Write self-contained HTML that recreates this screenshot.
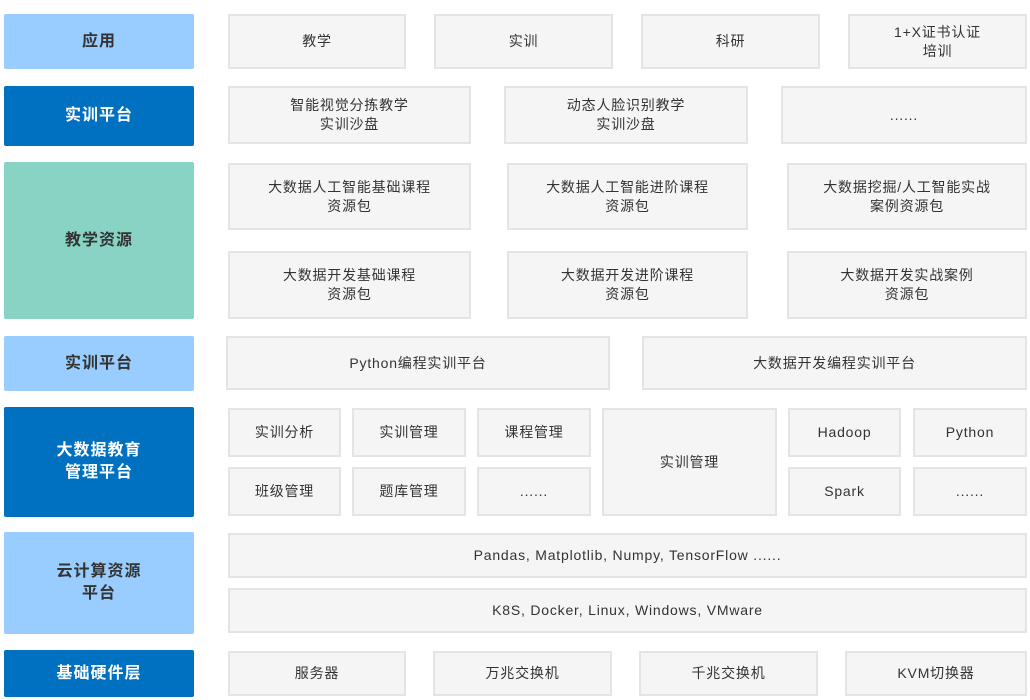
<!DOCTYPE html>
<html><head><meta charset="utf-8"><style>
body{margin:0;width:1030px;height:700px;background:#fff;position:relative;overflow:hidden;font-family:"Liberation Sans","Noto Sans CJK SC",sans-serif}
.b{position:absolute;box-sizing:border-box;background:#f5f5f5;border:2px solid #e4e4e4;display:flex;align-items:center;justify-content:center;text-align:center;font-size:14px;color:#333;letter-spacing:0.8px;line-height:19px}
.l{position:absolute;box-sizing:border-box;border-radius:2px;display:flex;align-items:center;justify-content:center;text-align:center;font-size:16px;font-weight:bold;line-height:22px;left:4px;width:190px;letter-spacing:1px}
.lb{background:#99ccff;color:#333}.db{background:#0070c0;color:#fff}.tl{background:#88d3c3;color:#333}
</style></head><body>
<div class="l lb" style="top:14px;height:55px">应用</div>
<div class="b" style="left:228px;top:14px;width:178px;height:55px">教学</div>
<div class="b" style="left:434px;top:14px;width:179px;height:55px">实训</div>
<div class="b" style="left:641px;top:14px;width:179px;height:55px">科研</div>
<div class="b" style="left:848px;top:14px;width:179px;height:55px">1+X证书认证<br>培训</div>

<div class="l db" style="top:86px;height:60px">实训平台</div>
<div class="b" style="left:228px;top:86px;width:243px;height:58px">智能视觉分拣教学<br>实训沙盘</div>
<div class="b" style="left:504px;top:86px;width:244px;height:58px">动态人脸识别教学<br>实训沙盘</div>
<div class="b" style="left:781px;top:86px;width:246px;height:58px">......</div>

<div class="l tl" style="top:162px;height:157px">教学资源</div>
<div class="b" style="left:228px;top:163px;width:243px;height:67px">大数据人工智能基础课程<br>资源包</div>
<div class="b" style="left:507px;top:163px;width:241px;height:67px">大数据人工智能进阶课程<br>资源包</div>
<div class="b" style="left:787px;top:163px;width:240px;height:67px">大数据挖掘/人工智能实战<br>案例资源包</div>
<div class="b" style="left:228px;top:251px;width:243px;height:68px">大数据开发基础课程<br>资源包</div>
<div class="b" style="left:507px;top:251px;width:241px;height:68px">大数据开发进阶课程<br>资源包</div>
<div class="b" style="left:787px;top:251px;width:240px;height:68px">大数据开发实战案例<br>资源包</div>

<div class="l lb" style="top:336px;height:55px">实训平台</div>
<div class="b" style="left:226px;top:336px;width:384px;height:54px">Python编程实训平台</div>
<div class="b" style="left:642px;top:336px;width:385px;height:54px">大数据开发编程实训平台</div>

<div class="l db" style="top:407px;height:110px">大数据教育<br>管理平台</div>
<div class="b" style="left:228px;top:408px;width:113px;height:49px">实训分析</div>
<div class="b" style="left:352px;top:408px;width:114px;height:49px">实训管理</div>
<div class="b" style="left:477px;top:408px;width:114px;height:49px">课程管理</div>
<div class="b" style="left:228px;top:467px;width:113px;height:49px">班级管理</div>
<div class="b" style="left:352px;top:467px;width:114px;height:49px">题库管理</div>
<div class="b" style="left:477px;top:467px;width:114px;height:49px">......</div>
<div class="b" style="left:602px;top:408px;width:175px;height:108px">实训管理</div>
<div class="b" style="left:788px;top:408px;width:113px;height:49px">Hadoop</div>
<div class="b" style="left:913px;top:408px;width:114px;height:49px">Python</div>
<div class="b" style="left:788px;top:467px;width:113px;height:49px">Spark</div>
<div class="b" style="left:913px;top:467px;width:114px;height:49px">......</div>

<div class="l lb" style="top:532px;height:102px">云计算资源<br>平台</div>
<div class="b" style="left:228px;top:533px;width:799px;height:45px">Pandas, Matplotlib, Numpy, TensorFlow ......</div>
<div class="b" style="left:228px;top:588px;width:799px;height:45px">K8S, Docker, Linux, Windows, VMware</div>

<div class="l db" style="top:650px;height:47px">基础硬件层</div>
<div class="b" style="left:228px;top:651px;width:178px;height:45px">服务器</div>
<div class="b" style="left:433px;top:651px;width:179px;height:45px">万兆交换机</div>
<div class="b" style="left:639px;top:651px;width:179px;height:45px">千兆交换机</div>
<div class="b" style="left:845px;top:651px;width:182px;height:45px">KVM切换器</div>
</body></html>
